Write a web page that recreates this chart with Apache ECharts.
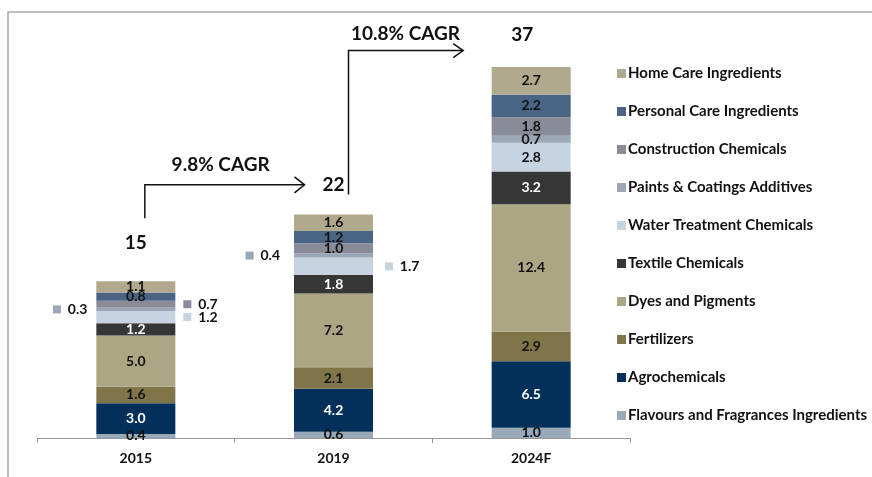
<!DOCTYPE html>
<html>
<head>
<meta charset="utf-8">
<script src="https://cdn.jsdelivr.net/npm/echarts@6/dist/echarts.min.js"></script>
<style>
  html, body { margin: 0; padding: 0; background: #fff; }
  #myChart { width: 872px; height: 477px; }
</style>
</head>
<body>
<div id="myChart"></div>
<script>
// categories and series values (bottom of stack first)
const categories = ["2015", "2019", "2024F"];
const flavours = [0.4, 0.6, 1.0];
const agro = [3.0, 4.2, 6.5];
const fertilizers = [1.6, 2.1, 2.9];
const dyes = [5.0, 7.2, 12.4];
const textile = [1.2, 1.8, 3.2];
const water = [1.2, 1.7, 2.8];
const paints = [0.3, 0.4, 0.7];
const construction = [0.7, 1.0, 1.8];
const personal = [0.8, 1.2, 2.2];
const homeCare = [1.1, 1.6, 2.7];
const totals = [15, 22, 37];
const cagrLabels = ["9.8% CAGR", "10.8% CAGR"];

const FONT = "Lato";
const DARK = "#111111";

const seriesDefs = [
  { name: "Flavours and Fragrances Ingredients", data: flavours, color: "#98A9BA", text: DARK },
  { name: "Agrochemicals", data: agro, color: "#02305A", text: "#ffffff" },
  { name: "Fertilizers", data: fertilizers, color: "#7F7549", text: DARK },
  { name: "Dyes and Pigments", data: dyes, color: "#ADA685", text: DARK },
  { name: "Textile Chemicals", data: textile, color: "#363636", text: "#ffffff" },
  { name: "Water Treatment Chemicals", data: water, color: "#C6D3E0", text: DARK },
  { name: "Paints & Coatings Additives", data: paints, color: "#9BA7B7", text: DARK },
  { name: "Construction Chemicals", data: construction, color: "#898C98", text: DARK },
  { name: "Personal Care Ingredients", data: personal, color: "#4A6583", text: DARK },
  { name: "Home Care Ingredients", data: homeCare, color: "#B0A98E", text: DARK },
];

// labels drawn beside the bar instead of inside it: [side, distance]
const outside = {
  "Paints & Coatings Additives": { 0: ["left", 9], 1: ["left", 14] },
  "Water Treatment Chemicals": { 0: ["right", 8], 1: ["right", 12] },
  "Construction Chemicals": { 0: ["right", 8] },
};

let myChart = echarts.init(document.getElementById("myChart"));

const series = seriesDefs.map(function (s) {
  const side = outside[s.name] || {};
  return {
    name: s.name,
    type: "bar",
    stack: "total",
    barWidth: 79,
    itemStyle: { color: s.color },
    label: {
      show: true,
      position: "inside",
      color: s.text,
      fontFamily: FONT,
      fontWeight: "bold",
      fontSize: 14,
      formatter: function (p) { return p.value.toFixed(1); },
    },
    data: s.data.map(function (v, i) {
      if (!side[i]) return v;
      return {
        value: v,
        label: {
          position: side[i][0],
          distance: side[i][1],
          color: DARK,
          formatter: function (p) { return "{s|}  {v|" + p.value.toFixed(1) + "}"; },
          rich: {
            s: { backgroundColor: s.color, width: 8, height: 8 },
            v: { fontFamily: FONT, fontWeight: "bold", fontSize: 14, color: DARK },
          },
        },
      };
    }),
  };
});

// zero-height bar on top of each stack to carry the total
const totalLabelPos = [[0, 29], [0, 20], [-9, 23]];
series.push({
  name: "total",
  type: "bar",
  stack: "total",
  barWidth: 79,
  data: totals.map(function (t, i) {
    return { value: 0, label: { distance: totalLabelPos[i][1], offset: [totalLabelPos[i][0], 0] } };
  }),
  label: {
    show: true,
    position: "top",
    color: DARK,
    fontFamily: FONT,
    fontWeight: "bold",
    fontSize: 19,
    formatter: function (p) { return String(totals[p.dataIndex]); },
  },
});

myChart.setOption({
  animation: false,
  grid: { left: 37, right: 242, top: 28, bottom: 39 },
  legend: {
    orient: "vertical",
    left: 612,
    top: 61,
    itemWidth: 9,
    itemHeight: 9,
    itemGap: 23,
    icon: "rect",
    data: seriesDefs.map(function (s) { return s.name; }).reverse(),
    textStyle: { fontFamily: FONT, fontWeight: "bold", fontSize: 15, color: DARK, padding: [0, 0, 0, -3] },
  },
  xAxis: {
    type: "category",
    data: categories,
    axisLine: { lineStyle: { color: "#999999", width: 1 } },
    axisTick: { show: true, length: 5, lineStyle: { color: "#999999" } },
    axisLabel: { color: DARK, fontFamily: FONT, fontWeight: "bold", fontSize: 14, margin: 13 },
  },
  yAxis: {
    type: "value",
    min: 0,
    max: 40,
    show: false,
    splitLine: { show: false },
  },
  series: series,
});

// CAGR arrows, placed from the chart's own scales
function px(i, v) { return myChart.convertToPixel({ seriesIndex: 0 }, [i, v]); }
const a0 = px(0, 0), a1 = px(1, 0), a2 = px(2, 0);
const lineStyle = { stroke: "#111111", lineWidth: 1.5, fill: null };
const y1 = px(1, 24.7)[1];
const y2 = px(2, 37.8)[1];
const top0 = px(0, 15.3)[1];
const top1 = px(1, 21.8)[1];
myChart.setOption({
  graphic: [
    { type: "polyline", shape: { points: [[8, 477], [8, 12], [872, 12]] }, style: { stroke: "#aaaaaa", lineWidth: 1.5, fill: null } },
    { type: "polyline", shape: { points: [[a0[0] + 9, top0 - 63], [a0[0] + 9, y1], [a1[0] - 29, y1]] }, style: lineStyle },
    { type: "polyline", shape: { points: [[a1[0] - 39, y1 - 8], [a1[0] - 29, y1], [a1[0] - 39, y1 + 8]] }, style: lineStyle },
    { type: "text", x: (a0[0] + a1[0]) / 2 - 14, y: y1 - 20, style: { text: cagrLabels[0], fill: "#111111", font: "bold 19px " + FONT, align: "center", verticalAlign: "middle" } },
    { type: "polyline", shape: { points: [[a1[0] + 15, top1 - 20], [a1[0] + 15, y2], [a2[0] - 68, y2]] }, style: lineStyle },
    { type: "polyline", shape: { points: [[a2[0] - 78, y2 - 7], [a2[0] - 68, y2], [a2[0] - 78, y2 + 7]] }, style: lineStyle },
    { type: "text", x: a1[0] + 72, y: y2 - 17, style: { text: cagrLabels[1], fill: "#111111", font: "bold 19px " + FONT, align: "center", verticalAlign: "middle" } },
  ],
});
</script>
</body>
</html>
